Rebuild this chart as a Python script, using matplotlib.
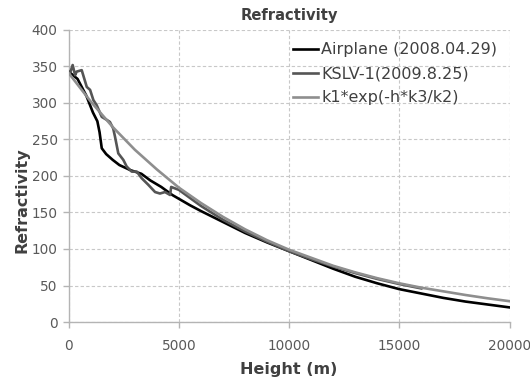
import matplotlib
matplotlib.use("Agg")
import matplotlib.pyplot as plt

# Airplane (2008.04.29)
air_h = [0, 400, 800, 1100, 1300, 1400, 1500, 1700, 2000, 2300, 2800, 3300, 3700,
         4200, 4700, 5500, 6000, 7000, 8000, 9000, 10000, 11000, 12000, 13000,
         14000, 15000, 16000, 17000, 18000, 19000, 20000]
air_v = [343, 333, 310, 287, 275, 260, 238, 230, 222, 215, 208, 203, 194,
         185, 174, 160, 152, 137, 122, 109, 97, 85, 73, 62,
         53, 45, 39, 33, 28, 24, 20]

# KSLV-1 (2009.8.25)
kslv_h = [50, 180, 290, 360, 590, 820, 970, 1120, 1270, 1500, 1720, 1870, 2020,
          2100, 2250, 2480, 2630, 2860, 3090, 3310, 3610, 3920, 4140, 4370, 4600,
          4650, 5000, 6000, 7000, 8000, 9000, 10000, 11000, 12000, 13000, 14000,
          15000, 16000]
kslv_v = [340, 352, 338, 343, 345, 322, 318, 304, 297, 281, 277, 274, 265,
          254, 231, 222, 213, 206, 206, 197, 188, 178, 176, 178, 174,
          185, 181, 159, 140, 124, 110, 97, 86, 76, 67, 59,
          52, 46]

# k1*exp(-h*k3/k2)
fit_h = [0, 1000, 2000, 3000, 4000, 5000, 6000, 7000, 8000, 9000, 10000, 11000,
         12000, 13000, 14000, 15000, 16000, 17000, 18000, 19000, 20000]
fit_v = [341, 302, 267, 236, 209, 184, 163, 144, 127, 112, 99, 88,
         77, 68, 60, 53, 47, 42, 37, 32.5, 28.5]

labels = ["Airplane (2008.04.29)", "KSLV-1(2009.8.25)", "k1*exp(-h*k3/k2)"]
x_ticks = [0, 5000, 10000, 15000, 20000]
y_ticks = [0, 50, 100, 150, 200, 250, 300, 350, 400]

fig = plt.figure(figsize=(5.3, 3.82), dpi=100)
ax = fig.add_axes([68.7 / 530, 1 - 322 / 382, (509.5 - 68.7) / 530, (322 - 30) / 382])

ax.plot(air_h, air_v, color="#000000", lw=1.9, label=labels[0], zorder=3)
ax.plot(kslv_h, kslv_v, color="#555555", lw=1.9, label=labels[1], zorder=3)
ax.plot(fit_h, fit_v, color="#8e8e8e", lw=1.9, label=labels[2], zorder=4)

ax.set_xlim(0, 20000)
ax.set_ylim(0, 400)
ax.set_xticks(x_ticks)
ax.set_yticks(y_ticks)
ax.grid(True, color="#c8c8c8", lw=0.8, ls=(0, (3, 2)))
ax.set_axisbelow(True)
for s in ["top", "right"]:
    ax.spines[s].set_visible(False)
for s in ["left", "bottom"]:
    ax.spines[s].set_color("#b4b4b4")
    ax.spines[s].set_linewidth(1.0)
ax.tick_params(axis="both", colors="#b4b4b4", labelcolor="#595959",
               labelsize=9.8, length=4, width=1.0, direction="out")
ax.tick_params(axis="x", pad=8)
ax.tick_params(axis="y", pad=4)

ax.set_title("Refractivity", fontsize=10.6, fontweight="bold", color="#404040", pad=7)
ax.set_xlabel("Height (m)", fontsize=11.5, fontweight="bold", color="#404040", labelpad=7)
ax.set_ylabel("Refractivity", fontsize=11.5, fontweight="bold", color="#404040")
ax.yaxis.set_label_coords(-0.088, 0.418)

leg = ax.legend(loc="upper left", bbox_to_anchor=(0.509, 0.958), frameon=False,
                fontsize=11.5, handlelength=1.55, handletextpad=0.2,
                labelspacing=0.57, borderaxespad=0, borderpad=0)
for t in leg.get_texts():
    t.set_color("#404040")

fig.savefig("out.png", dpi=100)
